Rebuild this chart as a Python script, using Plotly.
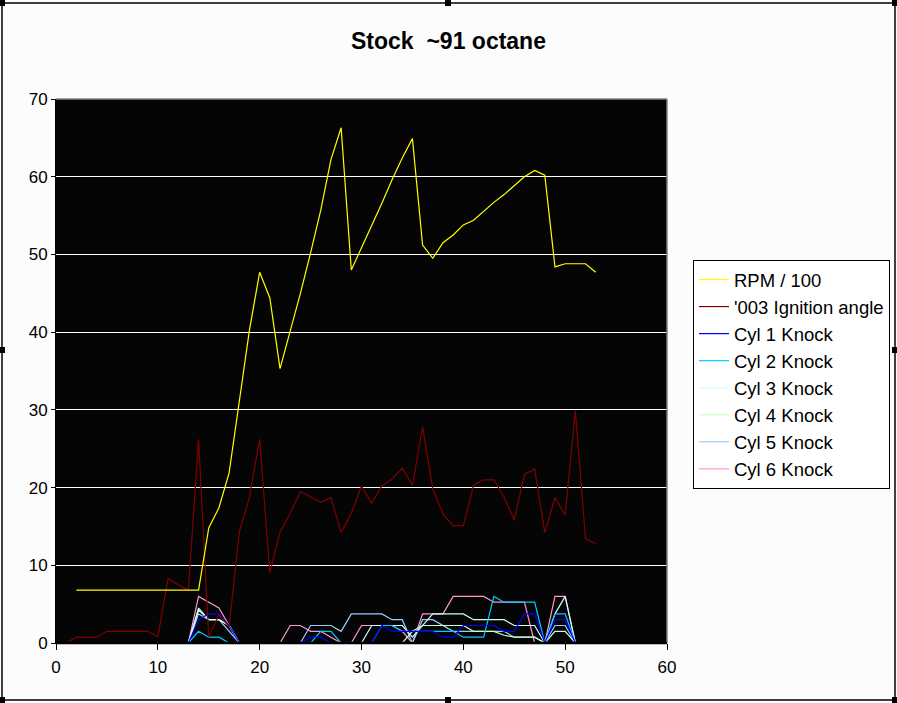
import plotly.graph_objects as go

# sample index along the log
samples = list(range(1, 54))

rpm_100 = [None, 6.8, 6.8, 6.8, 6.8, 6.8, 6.8, 6.8, 6.8, 6.8,
           6.8, 6.8, 6.8, 6.8, 14.8, 17.4, 21.9, 30.9, 40.3, 47.7,
           44.4, 35.3, 40.0, 45.0, 50.2, 55.7, 62.2, 66.3, 48.0, 50.8,
           53.8, 56.6, 59.6, 62.4, 64.9, 51.2, 49.5, 51.5, 52.5, 53.8,
           54.4, 55.6, 56.7, 57.7, 58.8, 60.0, 60.8, 60.2, 48.4, 48.8,
           48.8, 48.8, 47.7]

ign_angle = [0, 0.75, 0.75, 0.75, 1.5, 1.5, 1.5, 1.5, 1.5, 0.8,
             8.3, 7.5, 6.8, 26.2, 0.8, 3.6, 2.1, 14.3, 18.8, 26.2,
             9.0, 14.3, 16.7, 19.5, 18.8, 18.1, 18.7, 14.2, 16.7, 20.2,
             18.0, 20.2, 21.1, 22.5, 20.3, 27.8, 19.8, 16.6, 15.1, 15.1,
             20.3, 21.0, 21.0, 18.8, 15.8, 21.7, 22.4, 14.2, 18.7, 16.5,
             29.9, 13.4, 12.8]

cyl1 = [0, 0, 0, 0, 0, 0, 0, 0, 0, 0,
        0, 0, 0, 3.0, 3.75, 3.75, 2.25, 0, 0, 0,
        0, 0, 0, 0, 0.75, 0.75, 0, 0, 0, 0,
        0, 2.25, 1.5, 1.5, 1.5, 1.5, 1.5, 0.75, 0.75, 2.25,
        2.25, 2.25, 2.25, 1.5, 1.5, 3.75, 3.75, 0, 3.0, 3.0,
        0, 0, 0]

cyl2 = [0, 0, 0, 0, 0, 0, 0, 0, 0, 0,
        0, 0, 0, 1.5, 0.75, 0.75, 0, 0, 0, 0,
        0, 0, 0, 0, 0, 1.5, 1.5, 0, 0, 0,
        0, 2.25, 2.25, 1.5, 1.5, 1.5, 1.5, 1.5, 1.5, 0.75,
        0.75, 0.75, 6.0, 5.25, 5.25, 5.25, 5.25, 0, 3.75, 3.75,
        0, 0, 0]

cyl3 = [0, 0, 0, 0, 0, 0, 0, 0, 0, 0,
        0, 0, 0, 4.5, 3.0, 3.0, 2.25, 0, 0, 0,
        0, 0, 0, 0, 0, 0, 0, 0, 0, 0,
        2.25, 2.25, 2.25, 2.25, 0.75, 2.25, 3.75, 3.75, 3.75, 3.75,
        3.0, 3.0, 3.0, 3.0, 2.25, 2.25, 2.25, 0, 3.75, 6.0,
        0, 0, 0]

cyl4 = [0, 0, 0, 0, 0, 0, 0, 0, 0, 0,
        0, 0, 0, 4.25, 3.0, 3.0, 2.25, 0, 0, 0,
        0, 0, 0, 0, 0, 0, 0, 0, 0, 0,
        0, 0, 0, 0, 1.5, 2.25, 2.25, 2.25, 2.25, 2.25,
        1.5, 1.5, 1.5, 1.0, 0.75, 0.75, 0.75, 0, 1.5, 1.5,
        0, 0, 0]

cyl5 = [0, 0, 0, 0, 0, 0, 0, 0, 0, 0,
        0, 0, 0, 3.75, 3.0, 3.0, 1.5, 0, 0, 0,
        0, 0, 0, 0, 2.25, 2.25, 2.25, 1.5, 3.75, 3.75,
        3.75, 3.75, 3.0, 3.0, 0, 3.0, 3.0, 2.25, 1.5, 1.5,
        1.5, 1.5, 1.5, 1.5, 0.75, 0.75, 0.75, 0, 2.25, 2.25,
        0, 0, 0]

cyl6 = [0, 0, 0, 0, 0, 0, 0, 0, 0, 0,
        0, 0, 0, 6.0, 5.25, 4.5, 2.25, 0, 0, 0,
        0, 0, 2.25, 2.25, 1.5, 1.5, 0.75, 0, 0, 2.25,
        2.25, 2.25, 2.25, 1.5, 0, 3.75, 3.75, 3.75, 6.0, 6.0,
        6.0, 6.0, 5.25, 5.25, 5.25, 5.25, 0, 0, 6.0, 6.0,
        0, 0, 0]

series = [
    ("RPM / 100", rpm_100, "#FFFF00"),
    ("'003 Ignition angle", ign_angle, "#800000"),
    ("Cyl 1 Knock", cyl1, "#0000FF"),
    ("Cyl 2 Knock", cyl2, "#00CCFF"),
    ("Cyl 3 Knock", cyl3, "#CCFFFF"),
    ("Cyl 4 Knock", cyl4, "#CCFFCC"),
    ("Cyl 5 Knock", cyl5, "#99CCFF"),
    ("Cyl 6 Knock", cyl6, "#FF99CC"),
]

FONT = "Liberation Sans, Arial, sans-serif"

fig = go.Figure()
# draw knock lines first so the big series sit on top
for i, (name, vals, color) in reversed(list(enumerate(series))):
    fig.add_trace(go.Scatter(
        x=samples, y=vals, name=name, mode="lines",
        line=dict(color=color, width=1.2),
        legendrank=i + 1,
    ))

# plot area pixel box: x 56..667, y 99..643
L, R, T, B = 56, 667, 99, 643
W, H = 897, 703


def px(x):
    return (x - L) / (R - L)


def py(y):
    return (B - y) / (B - T)


shapes = [
    # outer chart border
    dict(type="rect", xref="paper", yref="paper",
         x0=px(2), x1=px(895), y0=py(700), y1=py(3),
         line=dict(color="black", width=1.5)),
    # gray border on top/right of plot area
    dict(type="line", xref="paper", yref="paper", x0=0, x1=1, y0=1, y1=1,
         line=dict(color="#808080", width=1.5)),
    dict(type="line", xref="paper", yref="paper", x0=1, x1=1, y0=0, y1=1,
         line=dict(color="#808080", width=1.5)),
    # black category axis drawn over the zero-valued knock lines
    dict(type="line", xref="paper", yref="paper", x0=0, x1=1, y0=0, y1=0,
         line=dict(color="black", width=2.5), layer="above"),
]
# selection handles
for hx, hy in [(2, 3), (448, 3), (895, 3), (2, 350), (895, 350),
               (2, 700), (448, 700), (895, 700)]:
    shapes.append(dict(type="rect", xref="paper", yref="paper",
                       x0=px(hx - 3), x1=px(hx + 3), y0=py(hy + 3), y1=py(hy - 3),
                       fillcolor="black", line=dict(width=0)))

fig.update_layout(
    width=W, height=H,
    margin=dict(l=L, r=W - R, t=T, b=H - B, pad=0, autoexpand=False),
    paper_bgcolor="#FCFCFC",
    plot_bgcolor="#050505",
    title=dict(text="<b>Stock  ~91 octane</b>", x=0.5, xref="container",
               xanchor="center", y=1 - 41 / H, yanchor="middle",
               font=dict(family=FONT, size=23, color="black")),
    font=dict(family=FONT, size=17, color="black"),
    xaxis=dict(range=[0, 60], dtick=10, showgrid=False, zeroline=False,
               showline=True, linecolor="black", linewidth=1,
               ticks="outside", ticklen=6, tickcolor="black",
               ticklabelstandoff=3, tickfont=dict(size=17)),
    yaxis=dict(range=[0, 70], dtick=10, showgrid=True, gridcolor="white",
               gridwidth=1.3, zeroline=False,
               showline=True, linecolor="black", linewidth=1,
               ticks="outside", ticklen=4, tickcolor="black",
               tickfont=dict(size=17)),
    legend=dict(x=px(693), y=py(260), xanchor="left", yanchor="top",
                bgcolor="white", bordercolor="black", borderwidth=1,
                font=dict(family=FONT, size=18.5, color="black"),
                itemwidth=30),
    shapes=shapes,
    showlegend=True,
)

# drop the default page margin so the chart fills the window
fig.write_html("out.html", config={"displayModeBar": False},
               post_script="document.body.style.margin='0';")
